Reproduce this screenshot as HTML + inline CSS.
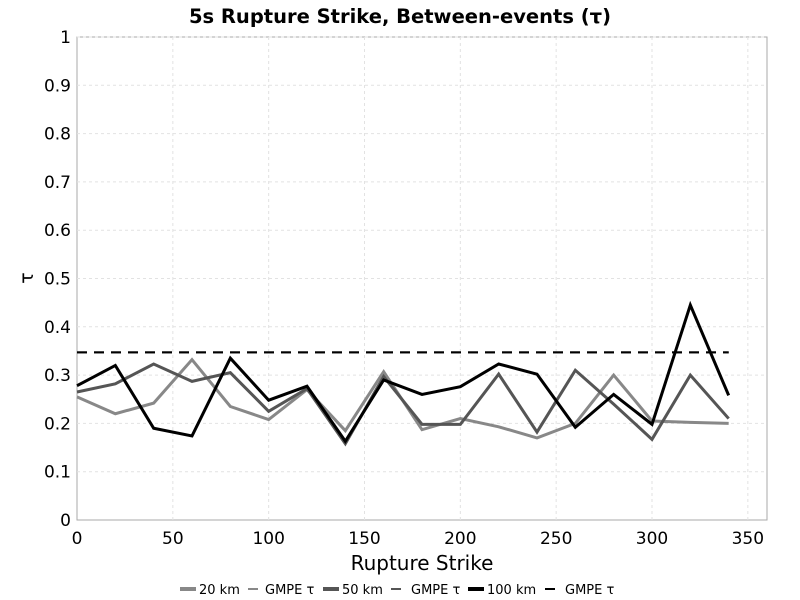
<!DOCTYPE html>
<html><head><meta charset="utf-8"><style>
body{margin:0;background:#fff;font-family:"DejaVu Sans","Liberation Sans",sans-serif}
svg{display:block}
</style></head><body>
<svg id="chart" width="800" height="600">
<text x="400" y="23" text-anchor="middle" font-size="19.5" font-weight="bold">5s Rupture Strike, Between-events (τ)</text>
<rect x="77" y="37" width="690" height="483" fill="#fff" stroke="#aaa"/>
<g id="grid"></g><g id="ticks"></g><g id="series"></g>
<text x="422" y="570" text-anchor="middle" font-size="20">Rupture Strike</text>
<text transform="translate(33,278) rotate(-90)" text-anchor="middle" font-size="19">τ</text>
<g font-size="13">
<g><line x1="180" y1="589" x2="196" y2="589" stroke="#888" stroke-width="4"/><text x="199" y="594">20 km</text></g>
<g><line x1="248" y1="589" x2="258" y2="589" stroke="#888" stroke-width="2"/><text x="265" y="594">GMPE τ</text></g>
<g><line x1="323" y1="589" x2="339" y2="589" stroke="#555" stroke-width="4"/><text x="342" y="594">50 km</text></g>
<g><line x1="391" y1="589" x2="401" y2="589" stroke="#555" stroke-width="2"/><text x="411" y="594">GMPE τ</text></g>
<g><line x1="468" y1="589" x2="484" y2="589" stroke="#000" stroke-width="4"/><text x="487" y="594">100 km</text></g>
<g><line x1="545" y1="589" x2="555" y2="589" stroke="#000" stroke-width="2"/><text x="565" y="594">GMPE τ</text></g>
</g>
</svg>
<script>
const strikes=[0,20,40,60,80,100,120,140,160,180,200,220,240,260,280,300,320,340];
const tau20=[0.255,0.22,0.242,0.332,0.235,0.208,0.27,0.185,0.307,0.187,0.21,0.193,0.17,0.2,0.3,0.205,0.202,0.2];
const tau50=[0.265,0.282,0.323,0.287,0.305,0.225,0.272,0.158,0.297,0.198,0.198,0.302,0.182,0.31,0.24,0.167,0.3,0.21];
const tau100=[0.278,0.32,0.19,0.174,0.335,0.248,0.277,0.163,0.29,0.26,0.276,0.323,0.302,0.192,0.26,0.198,0.445,0.258];
const gmpeTau=[0.347,0.347,0.347];
const xTicks=[0,50,100,150,200,250,300,350];
const yTicks=[0,0.1,0.2,0.3,0.4,0.5,0.6,0.7,0.8,0.9,1];
const NS="http://www.w3.org/2000/svg";
const X=v=>77+v*690/360, Y=v=>520-v*483;
function mk(t,a,p){const e=document.createElementNS(NS,t);for(const k in a)e.setAttribute(k,a[k]);p.appendChild(e);return e;}
const grid=document.getElementById('grid'),ticks=document.getElementById('ticks'),ser=document.getElementById('series');
xTicks.forEach(v=>{
 if(v>0){const g=mk('line',{x1:X(v),x2:X(v),y1:37,y2:520,stroke:'#e2e2e2','stroke-dasharray':'3,3'},grid);
 
 }
 const t=mk('text',{x:X(v),y:544,'text-anchor':'middle','font-size':'17'},ticks);t.textContent=v;
 
 
});
yTicks.forEach(v=>{
 if(v>0){const g=mk('line',{x1:77,x2:767,y1:Y(v),y2:Y(v),stroke:'#e2e2e2','stroke-dasharray':'3,3'},grid);
 
 }
 const t=mk('text',{x:71,y:Y(v)+6,'text-anchor':'end','font-size':'17'},ticks);t.textContent=v;
 
 
});
function line(vals,col,name){
 const p=mk('polyline',{points:vals.map((v,i)=>X(strikes[i])+','+Y(v)).join(' '),fill:'none',stroke:col,'stroke-width':3,'stroke-linejoin':'miter'},ser);
 
 
}
const gx=[strikes[0],strikes[strikes.length-1]];
[['#888','gmpe-line-20km'],['#555','gmpe-line-50km'],['#000','gmpe-line-100km']].forEach((c,i)=>{
 const l=mk('line',{x1:X(gx[0]),x2:X(gx[1]),y1:Y(gmpeTau[i]),y2:Y(gmpeTau[i]),stroke:c[0],'stroke-width':2,'stroke-dasharray':'10,7'},ser);
 
 
});
line(tau20,'#888','line-20km');
line(tau50,'#555','line-50km');
line(tau100,'#000','line-100km');
</script>
</body></html>
